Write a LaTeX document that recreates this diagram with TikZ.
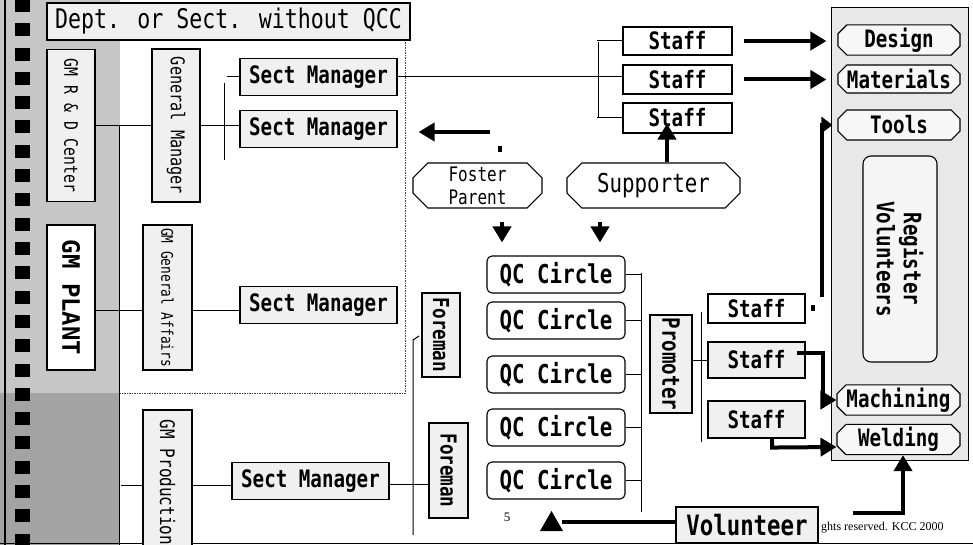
\documentclass[tikz,border=0pt]{standalone}
\usepackage{fontspec}
\usetikzlibrary{shapes.misc,arrows.meta,calc}
\newfontfamily\gf[FakeStretch=0.8]{DejaVu Sans Mono}
\newfontfamily\gfw{DejaVu Sans Mono}
\newfontfamily\tf{Liberation Serif}
\newcommand\gsz[1]{\fontsize{#1}{#1}\selectfont}
\pgfdeclarelayer{bg}\pgfdeclarelayer{lines}\pgfsetlayers{bg,lines,main}
\tikzset{
  box/.style={draw=black, line width=1.1pt, rectangle, inner sep=0pt, fill=white, text=black},
  dotbox/.style={box, fill=gray!12},
  qcbox/.style={box, rounded corners=5pt, minimum width=138pt, minimum height=37pt, font=\gf\bfseries\gsz{26}},
  smbox/.style={dotbox, minimum width=157pt, minimum height=37pt, font=\gf\bfseries\gsz{24}},
  stbox/.style={box, minimum width=109pt, font=\gf\bfseries\gsz{24}},
  pstbox/.style={dotbox, minimum width=97pt, font=\gf\bfseries\gsz{24}},
  chbox/.style={box, chamfered rectangle, chamfered rectangle xsep=6pt, fill=gray!6, minimum width=122pt, font=\gf\bfseries\gsz{24}},
  octbox/.style={box, chamfered rectangle, chamfered rectangle xsep=12pt, minimum height=45pt},
  conn/.style={draw=black, line width=1pt},
  thickline/.style={draw=black, line width=4pt},
  bigarrow/.style={thickline, -{Triangle[length=16pt,width=18pt]}},
}
\begin{document}
\begin{tikzpicture}[x=1pt,y=-1pt]
\useasboundingbox (0,0) rectangle (973,545);
\begin{pgfonlayer}{bg}
  \fill[white] (0,0) rectangle (973,545);
  \fill[gray!45] (0,0) rectangle (120,393);
  \fill[gray!72] (0,393) rectangle (120,545);
  \draw[line width=1.5pt] (5,0) -- (5,545);
  \foreach \i in {0,...,22} \fill[black] (15,{-1+24.3*\i}) rectangle ++(15,13);
  \draw[line width=0.8pt] (119,125) -- (119,545);
  \draw[gray!50!black, line width=0.8pt, dash pattern=on 1.5pt off 1pt] (405,40) -- (405,393) -- (120,393);
  \fill[gray!18] (831,8) rectangle (968,460);
  \draw[line width=1pt] (831,8) rectangle (968,460);
  \draw[line width=1pt] (0,543.5) -- (973,543.5);
\end{pgfonlayer}

% nodes
\node[dotbox, minimum width=363pt, minimum height=37pt, font=\gf\gsz{27}] (title) at (228.5,21.5) {Dept. or Sect. without QCC};
\node[dotbox, rotate=-90, minimum width=152pt, minimum height=48pt, font=\gf\gsz{18.5}] (gmrd) at (71,125.5) {GM R \& D Center};
\node[dotbox, rotate=-90, minimum width=153pt, minimum height=48pt, font=\gf\gsz{19}] (gm) at (176,125.5) {General Manager};
\node[box, rotate=-90, minimum width=145pt, minimum height=48pt, font=\gfw\bfseries\gsz{24}] (gmpl) at (71,297.5) {GM PLANT};
\node[dotbox, rotate=-90, minimum width=145pt, minimum height=49pt, font=\gf\gsz{16}] (gmga) at (167.5,297.5) {GM General Affairs};
\node[dotbox, rotate=-90, minimum width=145pt, minimum height=49pt, font=\gf\gsz{20}] (gmpr) at (167.5,482.5) {GM Production};

\node[smbox] (sm1) at (318.5,77) {Sect Manager};
\node[smbox] (sm2) at (318.5,129) {Sect Manager};
\node[smbox] (sm3) at (318.5,305) {Sect Manager};
\node[smbox] (sm4) at (310.5,481) {Sect Manager};

\node[stbox, minimum height=28pt] (staff1) at (677.5,41) {Staff};
\node[stbox, minimum height=29pt] (staff2) at (677.5,79.5) {Staff};
\node[stbox, minimum height=30pt] (staff3) at (677.5,118) {Staff};

\node[chbox, minimum height=26pt] (design) at (899,40) {Design};
\node[chbox, minimum height=28pt] (materials) at (899,79) {Materials};
\node[chbox, minimum height=30pt] (tools) at (899,125) {Tools};
\node[dotbox, fill=gray!8, rounded corners=8pt, rotate=-90, minimum width=206pt, minimum height=74pt, align=center, font=\gf\bfseries\gsz{24}] (reg) at (900,259) {Register\\[3pt]Volunteers};
\node[chbox, minimum width=123pt, minimum height=30pt] (machining) at (898.5,400) {Machining};
\node[chbox, minimum width=123pt, minimum height=29pt] (welding) at (898.5,439.5) {Welding};

\node[octbox, minimum width=129pt, align=center, font=\gf\gsz{20}] (foster) at (477.5,185.5) {Foster\\[3pt]Parent};
\node[octbox, minimum width=173pt, font=\gf\gsz{26}] (supporter) at (653.5,185.5) {Supporter};

\node[qcbox] (qc1) at (556,274.5) {QC Circle};
\node[qcbox] (qc2) at (556,320.5) {QC Circle};
\node[qcbox] (qc3) at (556,374.5) {QC Circle};
\node[qcbox] (qc4) at (556,427.5) {QC Circle};
\node[qcbox] (qc5) at (556,480.5) {QC Circle};

\node[dotbox, rotate=-90, minimum width=84pt, minimum height=38pt, font=\gf\bfseries\gsz{22}] (foreman1) at (441,335) {Foreman};
\node[dotbox, rotate=-90, minimum width=95pt, minimum height=39pt, font=\gf\bfseries\gsz{22}] (foreman2) at (448.5,470.5) {Foreman};
\node[dotbox, rotate=-90, minimum width=98pt, minimum height=42pt, font=\gf\bfseries\gsz{24}] (promoter) at (671,364) {Promoter};

\node[stbox, minimum width=97pt, minimum height=29pt] (staffp1) at (756.5,308.5) {Staff};
\node[pstbox, minimum height=36pt] (staffp2) at (756.5,360) {Staff};
\node[pstbox, minimum height=37pt] (staffp3) at (756.5,419.5) {Staff};

\node[dotbox, minimum width=142pt, minimum height=36pt, font=\gf\bfseries\gsz{28}] (volunteer) at (747,525) {Volunteer};

\node[font=\tf\gsz{13}] (pg) at (507,517) {5};
\node[font=\tf\gsz{12}, anchor=base west, inner sep=0pt] (copy) at (821,530) {ghts reserved. KCC 2000};

% thin connectors
\coordinate (gb1) at (224,83);
\coordinate (gb2) at (224,160);
\coordinate (sb1) at (598,42);
\coordinate (sb2) at (598,117);
\coordinate (fv1) at (413,340);
\coordinate (fv2) at (413,535);
\coordinate (qv1) at (641,273);
\coordinate (qv2) at (641,512);
\coordinate (pv1) at (701,312);
\coordinate (pv2) at (701,442);
\begin{pgfonlayer}{lines}
  \draw[conn] (gmrd.center) -- (gm.center);
  \draw[conn] (gm.center) -- (gm.center -| sm2.west);
  \draw[conn] (gb1) -- (gb2);
  \draw[conn] (sm1.west) -- ++(-12,0);
  \draw[conn] (sm1.center) -- (sm1.center -| staff2.west);
  \draw[conn] (sb1) -- (sb2);
  \draw[conn] (staff1.west) -- ++(-25,0);
  \draw[conn] (staff3.west) -- ++(-25,0);
  \draw[conn] (gmpl.center |- 0,310) -- (sm3.center |- 0,310);
  \draw[conn] (121,485) -- (gmpr.center |- 0,485);
  \draw[conn] (gmpr.center |- 0,485) -- (sm4.center |- 0,485);
  \draw[conn] (sm4.center |- 0,484) -- (foreman2.center |- 0,484);
  \draw[conn] (fv2) -- (fv1) -- ++(6,-4);
  \foreach \q in {qc1,qc2,qc3,qc4,qc5} \draw[conn] (\q.east) -- ++(16,0);
  \draw[conn] (qv1) -- (qv2);
  \draw[conn] (pv1) -- (pv2);
  \draw[conn] (staffp2.west) -- ++(-16,0);
\end{pgfonlayer}

% thick arrows
\draw[bigarrow, shorten <=11pt, shorten >=11pt] (staff1.east) -- (staff1.east -| design.west);
\draw[bigarrow, shorten <=11pt, shorten >=11pt] (staff2.east) -- (staff2.east -| materials.west);
\coordinate (tv) at (822,297);
\draw[thickline, -{Triangle[length=11pt,width=16pt]}, shorten >=5pt] (tv) |- (tools.west);
\fill (811,305) rectangle (815,311);
\coordinate (fa) at (490,132);
\draw[bigarrow, shorten >=21pt] (fa) -- (fa -| sm2.east);
\fill (498,146) rectangle (502,152);
\draw[bigarrow, shorten <=13pt, shorten >=13pt] (foster.south -| 502,0) -- (qc1.north -| 502,0);
\draw[bigarrow, shorten <=13pt, shorten >=13pt] (supporter.south -| 600,0) -- (qc1.north -| 600,0);
\draw[bigarrow, shorten >=-10pt] (supporter.north -| 667,0) -- (staff3.south -| 667,0);
\coordinate (m1) at (797,353);
\draw[bigarrow] (m1) -- ++(26,0) |- (machining.west);
\draw[bigarrow] (staffp3.south -| 772,0) -- ++(0,9) -- (welding.west |- 0,447);
\coordinate (v1) at (853,513);
\draw[bigarrow] (v1) -| (welding.south -| 903,0);
\coordinate (vt) at (562,522);
\draw[thickline] (volunteer.west |- vt) -- (vt);
\fill (540,531) -- (563,531) -- (551.5,511) -- cycle;
\end{tikzpicture}
\end{document}
